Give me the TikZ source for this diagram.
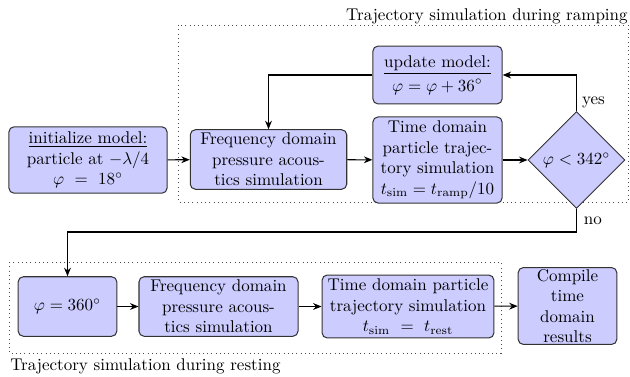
\documentclass[tikz,border=0pt]{standalone}
\usetikzlibrary{shapes.geometric,arrows.meta,calc}
\begin{document}
\begin{tikzpicture}[x=0.588pt,y=-0.588pt,
  box/.style={draw=black!80,line width=0.6pt,fill=blue!20,rounded corners=3pt,align=center,inner sep=1pt},
  dec/.style={draw=black!80,line width=0.6pt,fill=blue!20,diamond,aspect=1,inner sep=0pt,minimum width=57pt,minimum height=57pt},
  arr/.style={-{Stealth[length=5pt,width=4pt]},line width=0.6pt},
  grp/.style={draw=black!70,dotted,line width=0.5pt}]
\useasboundingbox (0,0) rectangle (630,376);
\draw[grp] (178,25) rectangle (628,202);
\node[anchor=base east,inner sep=0pt] (lramp) at (628,21) {Trajectory simulation during ramping};
\draw[grp] (9,262) rectangle (501,353);
\node[anchor=base west,inner sep=0pt] (lrest) at (10,370) {Trajectory simulation during resting};

\node[box,minimum width=93pt,minimum height=39pt] (init) at (88,160) {\underline{initialize model:}\\ particle at $-\lambda/4$\\ $\varphi\ =\ 18^\circ$};
\node[box,minimum width=92pt,minimum height=35pt] (f1) at (268.5,159.5) {Frequency domain\\ pressure acous-\\ tics simulation};
\node[box,minimum width=76pt,minimum height=50.6pt] (t1) at (437.5,160) {Time domain\\ particle trajec-\\ tory simulation\\ $t_{\mathrm{sim}}=t_{\mathrm{ramp}}/10$};
\node[box,minimum width=76pt,minimum height=34pt] (up) at (437.5,75) {\underline{update model:}\\[2pt] $\varphi=\varphi+36^\circ$};
\node[dec] (dia) at (576.5,160) {$\varphi<342^\circ$};

\node[box,minimum width=58pt,minimum height=35pt] (p3) at (67.5,306.5) {$\varphi=360^\circ$};
\node[box,minimum width=93.5pt,minimum height=35pt] (f2) at (218.5,306.5) {Frequency domain\\ pressure acous-\\ tics simulation};
\node[box,minimum width=101pt,minimum height=37pt] (t2) at (408,306.5) {Time domain particle\\ trajectory simulation\\ $t_{\mathrm{sim}}\ =\ t_{\mathrm{rest}}$};
\node[box,minimum width=58pt,minimum height=45pt] (cp) at (567.5,306) {Compile\\ time\\ domain\\ results};

\draw[arr] (init) -- (f1);
\draw[arr] (f1) -- (t1);
\draw[arr] (t1) -- (dia);
\draw[arr] (dia.north) |- (up.east) node[pos=0.12,right,inner sep=3pt] (yes) {yes};
\draw[arr] (up.west) -| (f1.north);
\draw[arr] (dia.south) -- (dia.south |- 0,232) node[pos=0.5,right,inner sep=4pt] (no) {no} -| (p3.north);
\draw[arr] (p3) -- (f2);
\draw[arr] (f2) -- (t2);
\draw[arr] (t2) -- (cp);
\end{tikzpicture}
\end{document}
